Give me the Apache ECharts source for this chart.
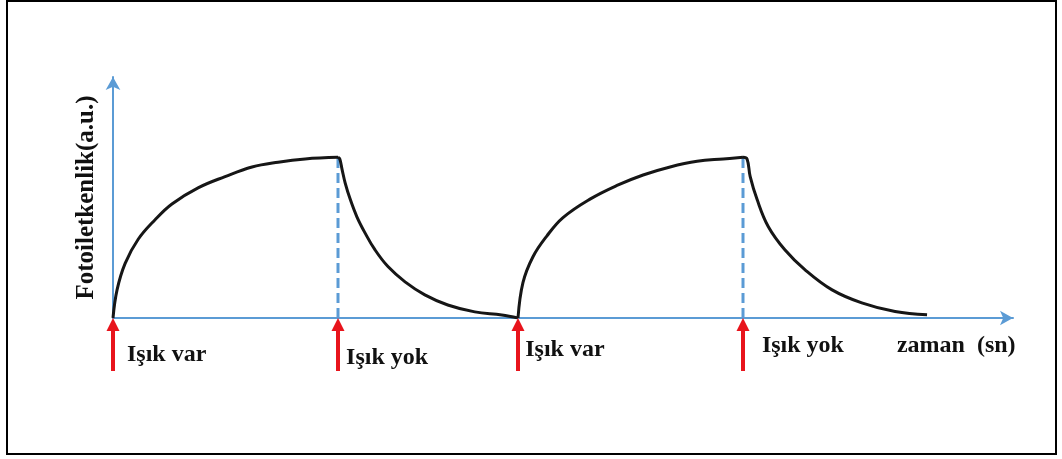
<html lang="tr">
<head>
    <meta charset="UTF-8">
    <title>Fotoiletkenlik</title>
    <script src="https://cdn.jsdelivr.net/npm/echarts@6/dist/echarts.min.js"></script>
</head>
<style>
    html, body { margin: 0; padding: 0; background: #fff; }
    #container { width: 1062px; height: 459px; }
</style>
<body>
<div id="container"></div>
<script>
    // zaman (t) ve fotoiletkenlik (v) degerleri
    var rise1T = [0, 0.09, 0.27, 0.56, 0.93, 1.31, 1.89, 2.49, 3.09, 3.67, 4.27, 5.0];
    var rise1V = [0, 0.175, 0.34, 0.49, 0.61, 0.71, 0.81, 0.88, 0.94, 0.97, 0.99, 1.0];

    var decay1T = [5.0, 5.04, 5.09, 5.16, 5.27, 5.42, 5.6, 5.82, 6.11, 6.49, 6.93, 7.44, 8.04, 8.64, 9.0];
    var decay1V = [1.0, 0.99, 0.925, 0.84, 0.74, 0.63, 0.53, 0.425, 0.32, 0.225, 0.144, 0.081, 0.038, 0.019, 0];

    var rise2T = [9.0, 9.11, 9.33, 9.64, 10.0, 10.6, 11.2, 11.78, 12.38, 12.98, 13.56, 14.0];
    var rise2V = [0, 0.22, 0.38, 0.51, 0.625, 0.74, 0.825, 0.89, 0.94, 0.975, 0.99, 1.0];

    var decay2T = [14.0, 14.09, 14.16, 14.31, 14.56, 14.93, 15.38, 15.98, 16.64, 17.38, 18.09];
    var decay2V = [1.0, 0.99, 0.88, 0.74, 0.57, 0.425, 0.30, 0.175, 0.094, 0.04, 0.02];

    // isik acilip kapandigi anlar
    var switchT = [0, 5, 9, 14];
    var dashT = [5, 14];
    var arrowLow = -0.33;

    var labelTexts = ['Işık var', 'Işık yok', 'Işık var', 'Işık yok', 'zaman  (sn)'];
    var labelT = [0.31, 5.18, 9.16, 14.42, 17.42];
    var labelV = [-0.23, -0.245, -0.2, -0.175, -0.17];

    var chart = echarts.init(document.getElementById('container'));

    function pairs(ts, vs)
    {
        return ts.map(function (t, i) { return [t, vs[i]]; });
    }

    var segments = [pairs(rise1T, rise1V), pairs(decay1T, decay1V), pairs(rise2T, rise2V), pairs(decay2T, decay2V)];

    var series = segments.map(function (seg)
    {
        return {
            type: 'line',
            data: seg,
            showSymbol: false,
            smooth: 0.4,
            lineStyle: { color: '#161616', width: 3 },
            z: 3,
            silent: true
        };
    });

    dashT.forEach(function (t)
    {
        series.push({
            type: 'line',
            data: [[t, 0], [t, 1]],
            showSymbol: false,
            lineStyle: { color: '#5b9bd5', width: 3, type: [10, 5] },
            z: 2,
            silent: true
        });
    });

    // kirmizi oklar
    series.push({
        type: 'custom',
        clip: false,
        silent: true,
        z: 4,
        data: switchT.map(function (t) { return [t, arrowLow]; }),
        renderItem: function (params, api)
        {
            var p0 = api.coord([api.value(0), api.value(1)]);
            var p1 = api.coord([api.value(0), 0]);
            var head = 13;
            return {
                type: 'group',
                children: [{
                    type: 'line',
                    shape: { x1: p0[0], y1: p0[1], x2: p1[0], y2: p1[1] + head - 1 },
                    style: { stroke: '#e8141c', lineWidth: 4 }
                }, {
                    type: 'polygon',
                    shape: { points: [[p1[0] - 6.5, p1[1] + head], [p1[0] + 6.5, p1[1] + head], [p1[0], p1[1]]] },
                    style: { fill: '#e8141c' }
                }]
            };
        }
    });

    series.push({
        type: 'scatter',
        clip: false,
        symbolSize: 0,
        silent: true,
        itemStyle: { opacity: 1 },
        data: labelTexts.map(function (s, i) { return [labelT[i], labelV[i], s]; }),
        label: {
            show: true,
            position: 'right',
            distance: 0,
            formatter: function (p) { return p.value[2]; },
            fontFamily: 'Liberation Serif',
            fontWeight: 'bold',
            fontSize: 24,
            color: '#111'
        }
    });

    var option = {
        animation: false,
        grid: { left: 113, right: 49, top: 77, bottom: 141 },
        graphic: [{
            type: 'rect',
            shape: { x: 7, y: 1, width: 1049, height: 453 },
            style: { fill: 'none', stroke: '#000', lineWidth: 2 }
        }],
        xAxis: {
            type: 'value',
            min: 0,
            max: 20,
            axisLine: {
                lineStyle: { color: '#5b9bd5', width: 2 },
                symbol: ['none', 'arrow'],
                symbolSize: [11, 13]
            },
            axisTick: { show: false },
            axisLabel: { show: false },
            splitLine: { show: false }
        },
        yAxis: {
            type: 'value',
            min: 0,
            max: 1.5,
            name: 'Fotoiletkenlik(a.u.)',
            nameLocation: 'middle',
            nameGap: 14,
            nameTextStyle: {
                fontFamily: 'Liberation Serif',
                fontWeight: 'bold',
                fontSize: 25,
                color: '#111'
            },
            axisLine: {
                show: true,
                lineStyle: { color: '#5b9bd5', width: 2 },
                symbol: ['none', 'arrow'],
                symbolSize: [11, 13]
            },
            axisTick: { show: false },
            axisLabel: { show: false },
            splitLine: { show: false }
        },
        series: series
    };

    chart.setOption(option);
</script>
</body>
</html>
